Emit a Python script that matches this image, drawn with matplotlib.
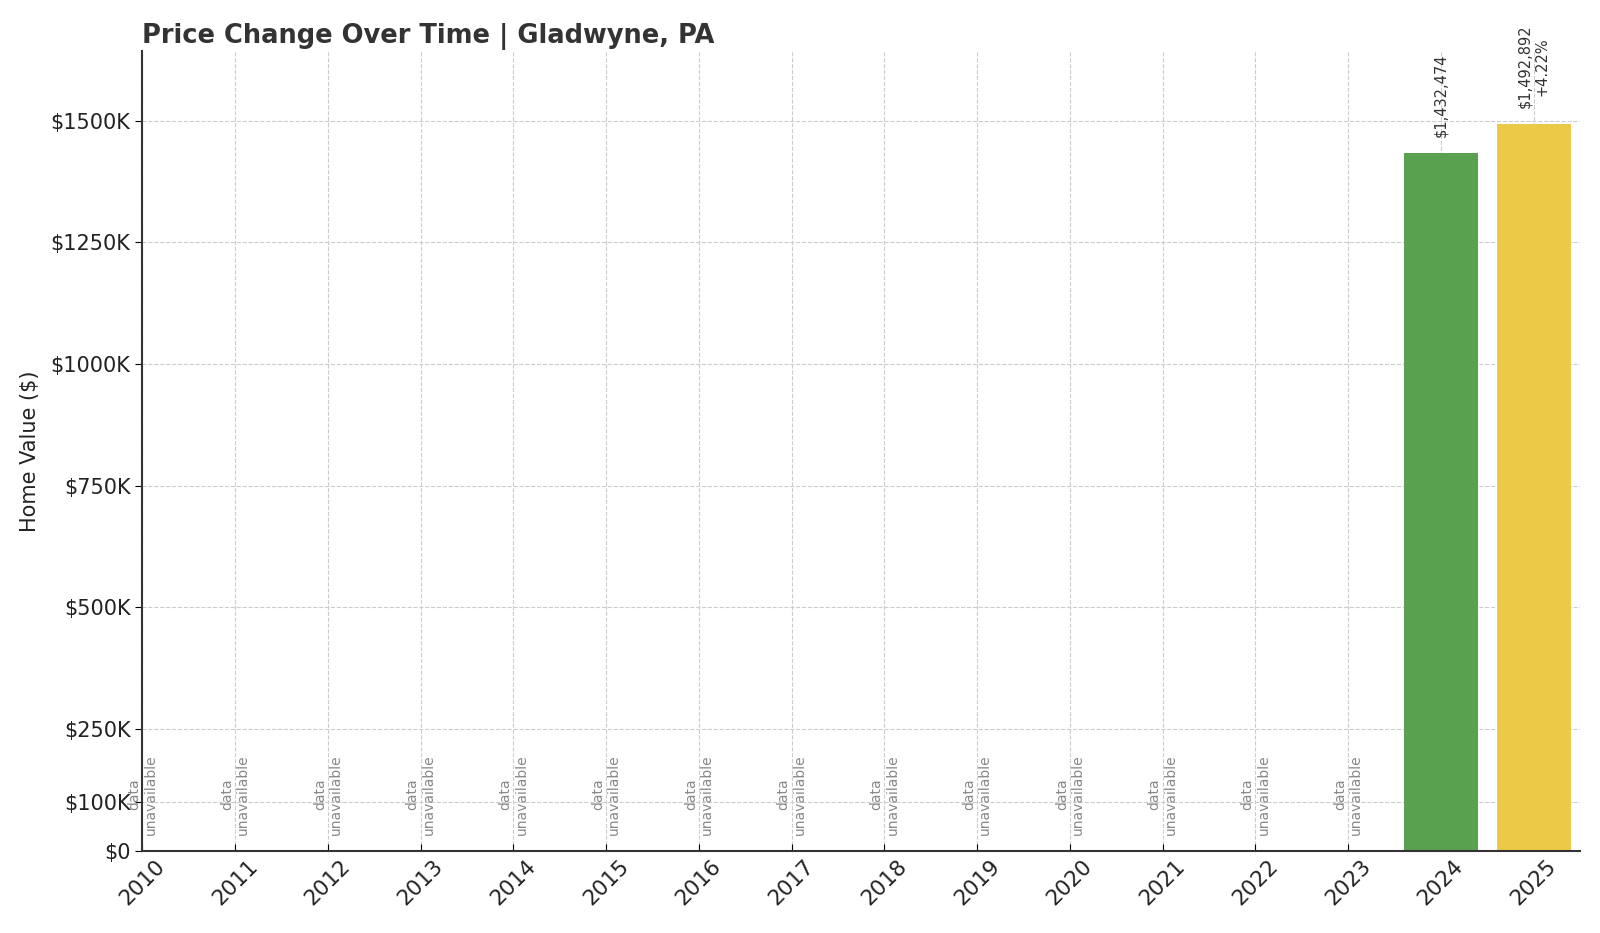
import numpy as np
import matplotlib.pyplot as plt
from matplotlib.ticker import FuncFormatter

years = list(range(2010, 2026))
values = [None] * 14 + [1432474, 1492892]
bar_colors = ['#59A14F', '#EDC948']
ytick_vals = [0, 100000, 250000, 500000, 750000, 1000000, 1250000, 1500000]

fig = plt.figure(figsize=(16, 9.33), dpi=100)
ax = fig.add_axes([0.089, 0.088, 0.8985, 0.857])

x = np.arange(len(years))
known = [(i, v) for i, v in enumerate(values) if v is not None]
ymax = max(v for _, v in known) * 1.1

# bars for years that have data
for k, (i, v) in enumerate(known):
    ax.bar(i, v, width=0.8, color=bar_colors[k], zorder=2)

# labels above bars
prev = None
for i, v in known:
    label = f'${v:,.0f}'
    if prev is not None:
        label += f'\n{(v - prev) / prev * 100:+.2f}%'
    ax.text(i, v + ymax * 0.02, label, rotation=90, ha='center', va='bottom',
            fontsize=10.5, color='#333333', zorder=3)
    prev = v

# placeholders for missing years
for i, v in enumerate(values):
    if v is None:
        ax.text(i, ymax * 0.02, 'data\nunavailable', rotation=90, ha='center',
                va='bottom', fontsize=10, color='#888888', zorder=3)

ax.set_xlim(0, len(years) - 0.5)
ax.set_ylim(0, ymax)
ax.set_xticks(x)
ax.set_xticklabels(years, rotation=45, fontsize=15.5, color='#222222')
ax.set_yticks(ytick_vals)
ax.yaxis.set_major_formatter(FuncFormatter(lambda v, p: '$0' if v == 0 else f'${v / 1000:.0f}K'))
ax.tick_params(axis='y', labelsize=15, labelcolor='#222222', direction='out', length=5)
ax.tick_params(axis='x', direction='in', length=5)
for lab in ax.get_xticklabels():
    lab.set_ha('center')

ax.grid(True, linestyle='--', color='#cccccc', linewidth=0.8, zorder=0)
ax.set_axisbelow(True)
ax.spines['top'].set_visible(False)
ax.spines['right'].set_visible(False)
ax.spines['left'].set_color('#333333')
ax.spines['bottom'].set_color('#333333')
ax.spines['left'].set_linewidth(1.5)
ax.spines['bottom'].set_linewidth(1.5)

ax.set_ylabel('Home Value ($)', fontsize=15, color='#222222', labelpad=8)
ax.set_title('Price Change Over Time | Gladwyne, PA', loc='left', fontsize=18.5,
             fontweight='bold', color='#333333')

fig.savefig('out.png')
